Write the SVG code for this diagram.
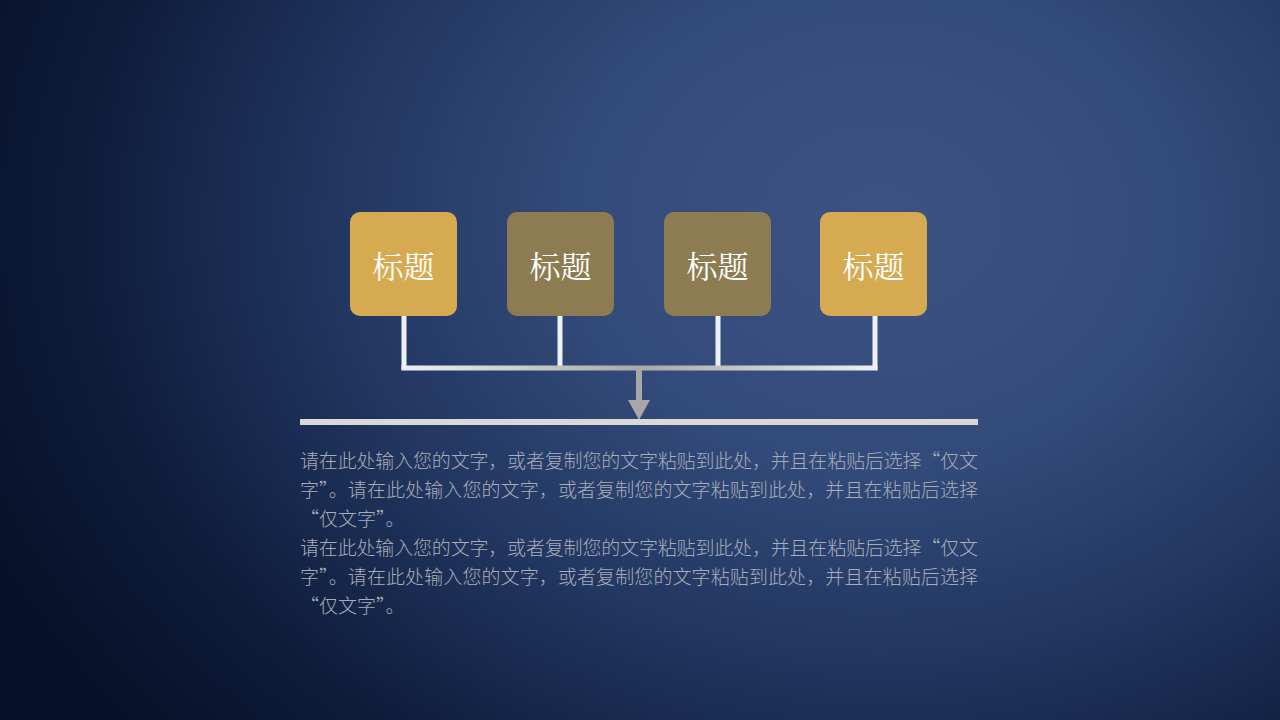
<svg xmlns="http://www.w3.org/2000/svg" width="1280" height="720" viewBox="0 0 1280 720">
<defs>
<radialGradient id="bg" cx="880" cy="220" r="1000" gradientUnits="userSpaceOnUse" gradientTransform="translate(880 220) scale(1 0.8) translate(-880 -220)">
<stop offset="0" stop-color="#3d5283"/>
<stop offset="0.3" stop-color="#334b7b"/>
<stop offset="0.55" stop-color="#213660"/>
<stop offset="0.8" stop-color="#0e1c3a"/>
<stop offset="1" stop-color="#061026"/>
</radialGradient>
<linearGradient id="hl" x1="401" y1="0" x2="877" y2="0" gradientUnits="userSpaceOnUse">
<stop offset="0" stop-color="#eef0f4"/>
<stop offset="0.5" stop-color="#a8a8a8"/>
<stop offset="1" stop-color="#eef0f4"/>
</linearGradient>
<style>
.box{stroke:none}
.gold{fill:#d6aa50}
.olive{fill:#8d7c51}
.t{font-family:"Liberation Serif","Noto Serif CJK SC","Noto Sans CJK SC",serif;font-size:31px;fill:#ffffff;text-anchor:middle}
.v{stroke:#eef0f4;stroke-width:5;fill:none}
.body{font-family:"Noto Sans CJK SC","Noto Sans",sans-serif;font-size:19px;font-weight:300;fill:#a9adb7}
</style>
</defs>
<rect width="1280" height="720" fill="url(#bg)"/>
<g id="connectors">
<line class="v" x1="404" y1="316" x2="404" y2="370"/>
<line class="v" x1="560" y1="316" x2="560" y2="368"/>
<line class="v" x1="718" y1="316" x2="718" y2="368"/>
<line class="v" x1="875" y1="316" x2="875" y2="370"/>
<line x1="401.5" y1="368" x2="877.5" y2="368" stroke="url(#hl)" stroke-width="5"/>
<line x1="639" y1="370" x2="639" y2="402" stroke="#a8a8a8" stroke-width="6"/>
<polygon points="628,400 650,400 639,420" fill="#a8a8a8"/>
</g>
<g id="baseline">
<rect x="300" y="419" width="678" height="6" fill="#d9d9d9"/>
</g>
<g id="node1"><rect class="box gold" x="350" y="212" width="107" height="104" rx="10"/><text class="t" x="403.5" y="278">标题</text></g>
<g id="node2"><rect class="box olive" x="507" y="212" width="107" height="104" rx="10"/><text class="t" x="560.5" y="278">标题</text></g>
<g id="node3"><rect class="box olive" x="664" y="212" width="107" height="104" rx="10"/><text class="t" x="717.5" y="278">标题</text></g>
<g id="node4"><rect class="box gold" x="820" y="212" width="107" height="104" rx="10"/><text class="t" x="873.5" y="278">标题</text></g>
<g id="bodytext" class="body">
<text x="300" y="468" textLength="678" lengthAdjust="spacing">请在此处输入您的文字，或者复制您的文字粘贴到此处，并且在粘贴后选择“仅文</text>
<text x="300" y="497" textLength="678" lengthAdjust="spacing">字”。请在此处输入您的文字，或者复制您的文字粘贴到此处，并且在粘贴后选择</text>
<text x="300" y="526">“仅文字”。</text>
<text x="300" y="555" textLength="678" lengthAdjust="spacing">请在此处输入您的文字，或者复制您的文字粘贴到此处，并且在粘贴后选择“仅文</text>
<text x="300" y="584" textLength="678" lengthAdjust="spacing">字”。请在此处输入您的文字，或者复制您的文字粘贴到此处，并且在粘贴后选择</text>
<text x="300" y="613">“仅文字”。</text>
</g>
</svg>
